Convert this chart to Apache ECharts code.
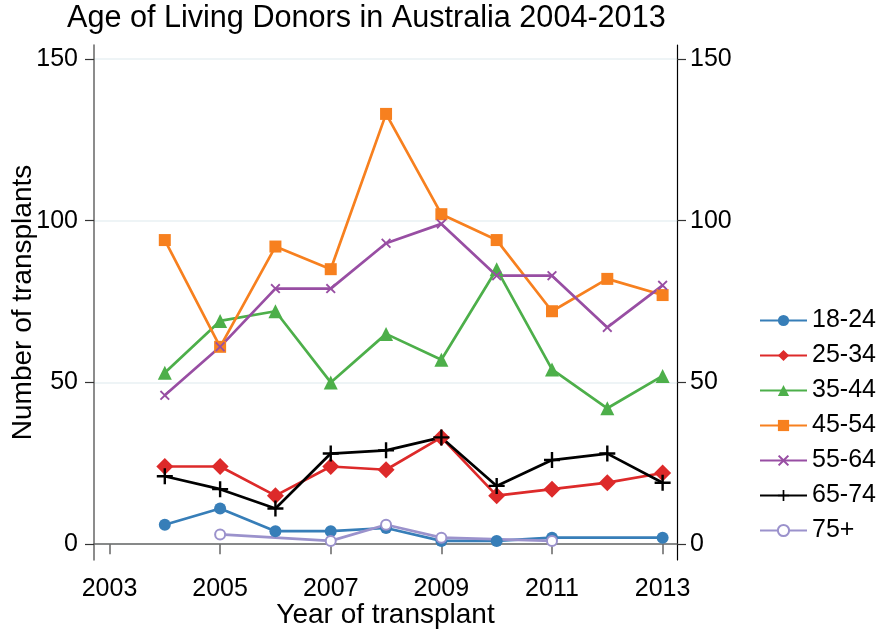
<!DOCTYPE html>
<html>
<head>
<meta charset="utf-8">
<script src="https://cdn.jsdelivr.net/npm/echarts@6/dist/echarts.min.js"></script>
<style>
  html, body { margin: 0; padding: 0; background: #fff; }
  #main { width: 885px; height: 630px; }
</style>
</head>
<body>
<div id="main"></div>
<script>
var years = [2004, 2005, 2006, 2007, 2008, 2009, 2010, 2011, 2012, 2013];
var tickYears = [2003, 2005, 2007, 2009, 2011, 2013];
var yTicks = [0, 50, 100, 150];

var age18_24 = [6, 11, 4, 4, 5, 1, 1, 2, null, 2];
var age25_34 = [24, 24, 15, 24, 23, 33, 15, 17, 19, 22];
var age35_44 = [53, 69, 72, 50, 65, 57, 85, 54, 42, 52];
var age45_54 = [94, 61, 92, 85, 133, 102, 94, 72, 82, 77];
var age55_64 = [46, 61, 79, 79, 93, 99, 83, 83, 67, 80];
var age65_74 = [21, 17, 11, 28, 29, 33, 18, 26, 28, 19];
var age75up  = [null, 3, null, 1, 6, 2, null, 1, null, null];

var crossPath = 'path://M0,1.3L1.3,0L5,3.7L8.7,0L10,1.3L6.3,5L10,8.7L8.7,10L5,6.3L1.3,10L0,8.7L3.7,5Z';
var plusPath = 'path://M4.25,0H5.75V4.25H10V5.75H5.75V10H4.25V5.75H0V4.25H4.25Z';

function pairs(vals) {
  var out = [];
  for (var i = 0; i < years.length; i++) {
    if (vals[i] !== null) out.push([years[i], vals[i]]);
  }
  return out;
}

function mkSeries(name, vals, color, symbol, size, extra) {
  var s = {
    name: name,
    type: 'line',
    data: pairs(vals),
    color: color,
    symbol: symbol,
    symbolSize: size,
    showAllSymbol: true,
    lineStyle: { width: 2.7, color: color },
    itemStyle: { color: color },
    animation: false
  };
  if (extra) for (var k in extra) s[k] = extra[k];
  return s;
}

var font = 'Liberation Sans, Arial, sans-serif';
var myChart = echarts.init(document.getElementById('main'));

var option = {
  backgroundColor: '#fff',
  title: {
    text: 'Age of Living Donors in Australia 2004-2013',
    left: 62,
    top: -2,
    textStyle: { fontFamily: font, fontSize: 30.6, fontWeight: 'normal', color: '#000' }
  },
  legend: {
    orient: 'vertical',
    left: 754,
    top: 303,
    itemWidth: 47,
    itemHeight: 14,
    itemGap: 10,
    textStyle: { fontFamily: font, fontSize: 25, lineHeight: 25, color: '#000' },
    data: ['18-24', '25-34', '35-44', '45-54', '55-64', '65-74', '75+']
  },
  grid: { left: 94, right: 208, top: 45, bottom: 70, containLabel: false, outerBoundsMode: 'none' },
  xAxis: {
    type: 'value',
    min: 2002.72,
    max: 2013.26,
    name: 'Year of transplant',
    nameLocation: 'middle',
    nameGap: 41,
    nameMoveOverlap: false,
    nameTextStyle: { fontFamily: font, fontSize: 28, color: '#000' },
    axisLine: { lineStyle: { color: '#666', width: 1.5 } },
    axisTick: { show: true, length: 10, lineStyle: { color: '#666', width: 1.5 }, customValues: tickYears },
    axisLabel: {
      fontFamily: font, fontSize: 25, color: '#000', margin: 17, customValues: tickYears,
      formatter: function (v) { return String(v); }
    },
    splitLine: { show: false }
  },
  yAxis: [{
    type: 'value',
    min: -4.9,
    max: 154.3,
    name: 'Number of transplants',
    nameLocation: 'middle',
    nameGap: 57,
    nameMoveOverlap: false,
    nameRotate: 90,
    nameTextStyle: { fontFamily: font, fontSize: 28, color: '#000' },
    axisLine: { show: true, lineStyle: { color: '#666', width: 1.5 } },
    axisTick: { show: true, length: 9, lineStyle: { color: '#333', width: 1.2 }, customValues: yTicks },
    axisLabel: { fontFamily: font, fontSize: 25, color: '#000', margin: 16, customValues: yTicks },
    splitLine: { show: true, lineStyle: { color: '#e8f1f3', width: 1.5 } }
  }, {
    type: 'value',
    position: 'right',
    min: -4.9,
    max: 154.3,
    axisLine: { show: true, lineStyle: { color: '#000', width: 1.2 } },
    axisTick: { show: true, length: 9, lineStyle: { color: '#333', width: 1.2 }, customValues: yTicks },
    axisLabel: { fontFamily: font, fontSize: 25, color: '#000', margin: 13, customValues: yTicks },
    splitLine: { show: false }
  }],
  series: [
    mkSeries('18-24', age18_24, '#377eb8', 'circle', 12),
    mkSeries('25-34', age25_34, '#dd2a2a', 'diamond', 17),
    mkSeries('35-44', age35_44, '#4daf4a', 'triangle', 14),
    mkSeries('45-54', age45_54, '#f7801f', 'rect', 12),
    mkSeries('55-64', age55_64, '#984ea3', crossPath, 10),
    mkSeries('65-74', age65_74, '#000000', plusPath, 16),
    mkSeries('75+', age75up, '#9b92cc', 'emptyCircle', 10, {
      itemStyle: { color: '#9b92cc', borderColor: '#9b92cc', borderWidth: 2.5 }
    })
  ]
};

myChart.setOption(option, true);
</script>
</body>
</html>
